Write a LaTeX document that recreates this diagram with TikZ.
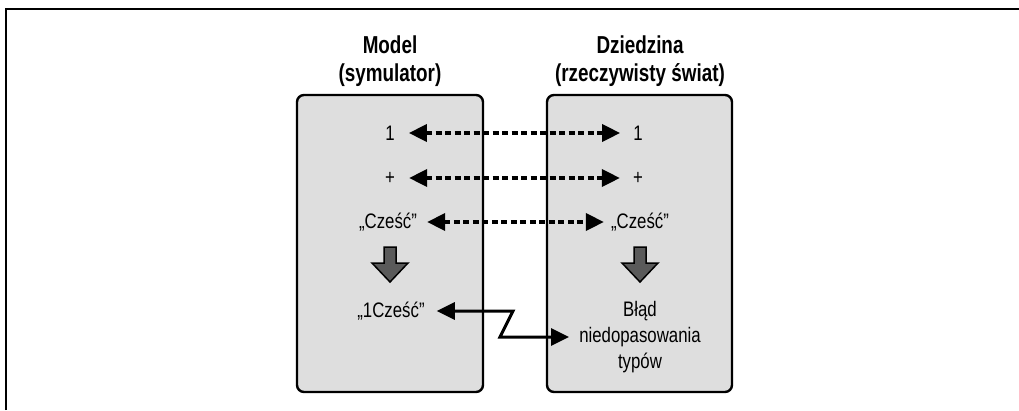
\documentclass[tikz,border=0pt]{standalone}
\usepackage{fontspec}
\setmainfont[FakeStretch=0.8]{Liberation Sans}
\newfontfamily\titlefont[FakeStretch=0.77]{Liberation Sans}
\usetikzlibrary{arrows.meta}
\definecolor{boxgray}{HTML}{DEDEDE}
\definecolor{arrgray}{HTML}{5A5A5A}
\tikzset{
  panel/.style={draw=black, line width=2.4pt, fill=boxgray, rounded corners=7pt},
  title/.style={font=\titlefont\fontsize{24.5}{28}\selectfont\bfseries, align=center},
  item/.style={font=\fontsize{21}{26}\selectfont, align=center, inner sep=1pt},
  dasharrow/.style={line width=3.5pt, dash pattern=on 6pt off 3.5pt,
     {Triangle[length=18pt,width=17pt]}-{Triangle[length=18pt,width=17pt]}},
  solidarrow/.style={line width=3pt, line join=miter,
     {Triangle[length=18pt,width=17pt]}-{Triangle[length=18pt,width=17pt]}},
  blockarrow/.style={fill=arrgray, draw=black, line width=1.5pt, line join=miter}
}
\begin{document}
\begin{tikzpicture}[x=1pt,y=-1pt]
\useasboundingbox (0,0) rectangle (1019,410);
\draw[line width=2.2pt] (6,410) -- (6,9) -- (1019,9);

\node[title] (tl) at (390,61) {Model\\(symulator)};
\node[title] (tr) at (640,61) {Dziedzina\\(rzeczywisty świat)};

\draw[panel] (297,95) rectangle (483,392);
\draw[panel] (547,95) rectangle (732,392);

\node[item] (l1) at (390,133) {1};
\node[item] (r1) at (638,133) {1};
\node[item] (lp) at (390,178) {+};
\node[item] (rp) at (638,178) {+};
\node[item] (lc) at (388,222) {„Cześć”};
\node[item] (rc) at (640,222) {„Cześć”};
\node[item] (l2) at (391,311) {„1Cześć”};
\node[item] (r2) at (640,337) {Błąd\\niedopasowania\\typów};

\draw[dasharrow] ([xshift=13pt]l1.east) -- ([xshift=-12pt]r1.west);
\draw[dasharrow] ([xshift=13pt]lp.east) -- ([xshift=-12pt]rp.west);
\draw[dasharrow] ([xshift=9pt]lc.east) -- ([xshift=-6pt]rc.west);

\coordinate (zA) at (513,311);
\coordinate (zB) at (500,337);
\draw[solidarrow] ([xshift=11pt]l2.east) -- (zA) -- (zB) -- ([xshift=-9pt]r2.west);

\foreach \c in {390,640}{
  \draw[blockarrow] (\c-6,247) -- (\c+6,247) -- (\c+6,263) -- (\c+18,263)
     -- (\c,282) -- (\c-18,263) -- (\c-6,263) -- cycle;
}
\end{tikzpicture}
\end{document}
